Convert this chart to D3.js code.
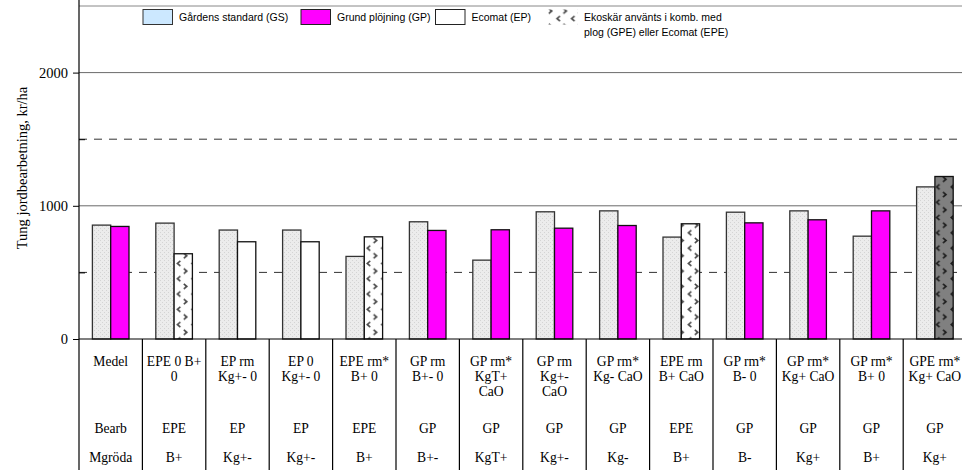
<!DOCTYPE html>
<html><head><meta charset="utf-8">
<script src="https://cdn.jsdelivr.net/npm/d3@7"></script>
<style>body{margin:0;background:#fff}svg{display:block}</style>
</head><body>
<svg id="c" width="962" height="470"></svg>
<script>
const categories = ["Medel","EPE 0 B+ 0","EP rm Kg+- 0","EP 0 Kg+- 0","EPE rm* B+ 0","GP rm B+- 0","GP rm* KgT+ CaO","GP rm Kg+- CaO","GP rm* Kg- CaO","EPE rm B+ CaO","GP rm* B- 0","GP rm* Kg+ CaO","GP rm* B+ 0","GPE rm* Kg+ CaO"];
const labelLines = [["Medel"],["EPE 0 B+","0"],["EP rm","Kg+- 0"],["EP 0","Kg+- 0"],["EPE rm*","B+ 0"],["GP rm","B+- 0"],["GP rm*","KgT+","CaO"],["GP rm","Kg+-","CaO"],["GP rm*","Kg- CaO"],["EPE rm","B+ CaO"],["GP rm*","B- 0"],["GP rm*","Kg+ CaO"],["GP rm*","B+ 0"],["GPE rm*","Kg+ CaO"]];
const bearb = ["Bearb","EPE","EP","EP","EPE","GP","GP","GP","GP","EPE","GP","GP","GP","GP"];
const mgroda = ["Mgröda","B+","Kg+-","Kg+-","B+","B+-","KgT+","Kg+-","Kg-","B+","B-","Kg+","B+","Kg+"];
const gsValues = [855,870,818,818,620,880,592,955,962,765,952,962,772,1142];
const compValues = [845,640,730,730,767,815,820,832,852,865,872,895,962,1220];
const compType = ["GP","EPE","EP","EP","EPE","GP","GP","GP","GP","EPE","GP","GP","GP","GPE"];
const majorTicks = [0,1000,2000];
const dashedLines = [500,1500];
const legendItems = [
  {key:"GS", text:["Gårdens standard (GS)"]},
  {key:"GP", text:["Grund plöjning (GP)"]},
  {key:"EP", text:["Ecomat (EP)"]},
  {key:"EPE", text:["Ekoskär använts i komb. med","plog (GPE) eller Ecomat (EPE)"]}
];
const yTitle = "Tung jordbearbetning, kr/ha";

(function(){
const svg = d3.select("#c");
const pL = 79, pR = 966.6, pT = 6, pB = 339;
const x = d3.scaleBand().domain(categories).range([pL, pR]).padding(0);
const bw = x.bandwidth();
const barW = 18.3;
const x1 = d3.scaleBand().domain(["GS","C"]).range([bw/2 - barW, bw/2 + barW]).padding(0);
const y = d3.scaleLinear().domain([0,2500]).range([pB, pT]);

// patterns
const defs = svg.append("defs");
const pGS = defs.append("pattern").attr("id","pGS").attr("patternUnits","userSpaceOnUse").attr("width",4).attr("height",4);
pGS.append("rect").attr("width",4).attr("height",4).attr("fill","#ececec");
pGS.append("rect").attr("x",0).attr("y",0).attr("width",1).attr("height",1).attr("fill","#d4d4d4");
pGS.append("rect").attr("x",2).attr("y",2).attr("width",1).attr("height",1).attr("fill","#d4d4d4");
function chevPattern(id, bg, fg){
  const p = defs.append("pattern").attr("id",id).attr("patternUnits","userSpaceOnUse").attr("width",14.6).attr("height",15.3).attr("x",1);
  p.append("rect").attr("width",14.6).attr("height",15.3).attr("fill",bg);
  p.append("path").attr("d","M4.2,0.8 L1.2,3.3 L4.2,5.8").attr("fill","none").attr("stroke",fg).attr("stroke-width",1.6);
  p.append("path").attr("d","M7.6,8.5 L10.6,11 L7.6,13.5").attr("fill","none").attr("stroke",fg).attr("stroke-width",1.6);
}
chevPattern("pEPE","#ffffff","#444");
chevPattern("pGPE","#808080","#1a1a1a");
const fills = {GS:"url(#pGS)", GP:"#ff00ff", EP:"#ffffff", EPE:"url(#pEPE)", GPE:"url(#pGPE)"};

// top border
svg.append("line").attr("x1",pL).attr("x2",962).attr("y1",y(2500)).attr("y2",y(2500)).attr("stroke","#888").attr("stroke-width",1);

// gridlines
svg.append("g").selectAll("line").data(majorTicks.filter(d=>d>0)).join("line")
  .attr("x1",pL).attr("x2",pR).attr("y1",d=>y(d)).attr("y2",d=>y(d))
  .attr("stroke","#6a6a6a").attr("stroke-width",1);
svg.append("g").selectAll("line").data(dashedLines).join("line")
  .attr("x1",pL).attr("x2",pR).attr("y1",d=>y(d)).attr("y2",d=>y(d))
  .attr("stroke","#333").attr("stroke-width",1).attr("stroke-dasharray","8,7");

// bars
const g = svg.append("g");
categories.forEach((c,i)=>{
  const cx = x(c);
  g.append("rect").attr("x",cx + x1("GS")).attr("width",x1.bandwidth())
    .attr("y",y(gsValues[i])).attr("height",y(0)-y(gsValues[i]))
    .attr("fill",fills.GS).attr("stroke","#333").attr("stroke-width",1.3);
  g.append("rect").attr("x",cx + x1("C")).attr("width",x1.bandwidth())
    .attr("y",y(compValues[i])).attr("height",y(0)-y(compValues[i]))
    .attr("fill",fills[compType[i]]).attr("stroke","#111").attr("stroke-width",1.3);
});

// baseline
svg.append("line").attr("x1",pL).attr("x2",pR).attr("y1",y(0)).attr("y2",y(0)).attr("stroke","#000").attr("stroke-width",1.2);

// y axis
const serif = "'Liberation Serif','Times New Roman',serif";
const ax = svg.append("g").attr("transform",`translate(${pL},0)`)
  .call(d3.axisLeft(y).tickValues(majorTicks).tickSize(6).tickPadding(5).tickFormat(d3.format("d")));
ax.select(".domain").remove();
ax.selectAll("text").attr("font-family",serif).attr("font-size",14.5).attr("fill","#000");
ax.selectAll("line").attr("stroke","#000");
const axm = svg.append("g").attr("transform",`translate(${pL},0)`)
  .call(d3.axisRight(y).tickValues(dashedLines).tickSize(6).tickFormat(""));
axm.select(".domain").remove();
axm.selectAll("line").attr("stroke","#000");
svg.append("line").attr("x1",pL).attr("x2",pL).attr("y1",0).attr("y2",470).attr("stroke","#000").attr("stroke-width",1.2);

// separators
svg.append("g").selectAll("line").data(categories.slice(1)).join("line")
  .attr("x1",d=>x(d)).attr("x2",d=>x(d)).attr("y1",y(0)).attr("y2",470)
  .attr("stroke","#000").attr("stroke-width",1.2);

// table labels
const tl = svg.append("g").attr("font-family",serif).attr("font-size",13.6).attr("fill","#000").attr("text-anchor","middle");
categories.forEach((c,i)=>{
  const cx = x(c) + bw/2;
  labelLines[i].forEach((t,j)=>{
    tl.append("text").attr("x",cx).attr("y",366 + j*15).text(t);
  });
  tl.append("text").attr("x",cx).attr("y",433).text(bearb[i]);
  tl.append("text").attr("x",cx).attr("y",462).text(mgroda[i]);
});

// y title
svg.append("text").attr("transform","translate(27,168) rotate(-90)").attr("text-anchor","middle")
  .attr("font-family",serif).attr("font-size",14.5).attr("fill","#000").text(yTitle);

// legend
const lg = svg.append("g").attr("font-family","'Liberation Sans',Arial,sans-serif").attr("font-size",10.5).attr("fill","#000");
const legX = [143, 301, 435.5, 548];
legendItems.forEach((it,i)=>{
  const lx = legX[i];
  if(it.key==="GS"){
    lg.append("rect").attr("x",lx).attr("y",9.5).attr("width",29.5).attr("height",15).attr("fill","#cce8ff").attr("stroke","#333").attr("stroke-width",1);
  } else if(it.key==="EPE"){
    lg.append("rect").attr("x",lx).attr("y",9.5).attr("width",29.5).attr("height",15).attr("fill","url(#pEPE)");
  } else {
    lg.append("rect").attr("x",lx).attr("y",9.5).attr("width",29.5).attr("height",15).attr("fill",fills[it.key]).attr("stroke","#222").attr("stroke-width",1);
  }
  it.text.forEach((t,j)=>{
    lg.append("text").attr("x",lx+36).attr("y",20.5 + j*15).text(t);
  });
});
})();
</script>
</body></html>
